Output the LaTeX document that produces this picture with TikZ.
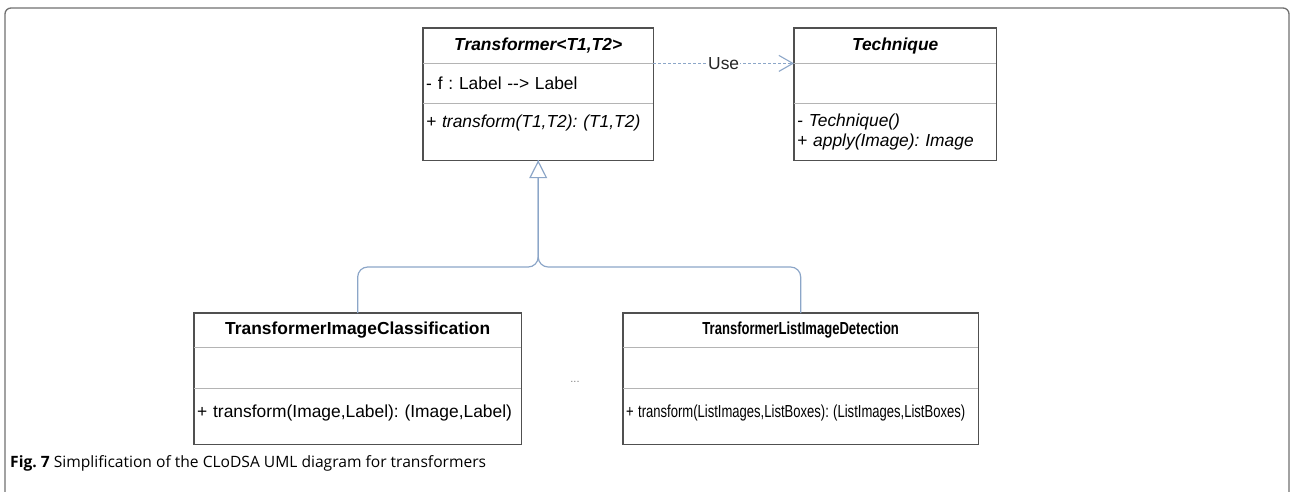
\documentclass[tikz,border=0pt]{standalone}
\usepackage{fontspec}
\setmainfont{Liberation Sans}
\newfontfamily\capfont{Open Sans}
\usetikzlibrary{arrows.meta}
\usetikzlibrary{positioning}
\frenchspacing
\newcommand{\umlsize}{\fontsize{17.4}{20}\selectfont}
\definecolor{boxgray}{HTML}{505050}
\definecolor{divgray}{HTML}{B4B4B4}
\definecolor{linkblue}{HTML}{8CA6C8}
\definecolor{framegray}{HTML}{707070}
\tikzset{
    classname/.style={inner xsep=3pt, inner ysep=0pt, align=center, font=\umlsize\bfseries},
    classitem/.style={inner xsep=3pt, inner ysep=0pt, align=left, font=\umlsize},
    border/.style={draw=boxgray, line width=1.3pt},
    divider/.style={draw=divgray, line width=1.3pt},
    usedep/.style={draw=linkblue, line width=1.1pt, dash pattern=on 3pt off 2pt,
        -{Straight Barb[length=14pt, width=16pt]}},
    inherit/.style={draw=linkblue, line width=1.2pt, rounded corners=10pt},
}

\begin{document}
\begin{tikzpicture}[x=1pt, y=-1pt, >=stealth]
    \useasboundingbox (0,0) rectangle (1291,491);
    % Frame
    \draw[framegray, line width=1.3pt, rounded corners=6pt] (5,492) |- (1289,8) -- (1289,492);

    % Class (Transformer)
    \node[classname, font=\umlsize\bfseries\itshape, text width=224pt, minimum height=35pt, anchor=north west] (tfhead) at (423,28) {Transformer<T1,T2>};
    \node[classitem, text width=224pt, minimum height=40pt, below=0pt of tfhead] (tfattr) {- f : Label \mbox{-}\mbox{-}> Label};
    \node[classitem, font=\umlsize\itshape, text width=224pt, text height=23pt, text depth=33pt, below=0pt of tfattr] (tfops) {+ transform(T1,T2): (T1,T2)};
    \draw[border] (tfhead.north west) rectangle (tfops.south east);
    \draw[divider] (tfattr.north west) -- (tfattr.north east);
    \draw[divider] (tfops.north west) -- (tfops.north east);

    % Class (Technique)
    \node[classname, font=\umlsize\bfseries\itshape, text width=196pt, minimum height=35pt, anchor=north west] (tqhead) at (794,28) {Technique};
    \node[classitem, text width=196pt, minimum height=40pt, below=0pt of tqhead] (tqattr) {};
    \node[classitem, font=\umlsize\itshape, text width=196pt, minimum height=56pt, below=0pt of tqattr] (tqops) {- Technique()\\+ apply(Image): Image};
    \draw[border] (tqhead.north west) rectangle (tqops.south east);
    \draw[divider] (tqattr.north west) -- (tqattr.north east);
    \draw[divider] (tqops.north west) -- (tqops.north east);

    % Class (TransformerImageClassification)
    \node[classname, text width=321pt, minimum height=34pt, anchor=north west] (tichead) at (194,313) {TransformerImageClassification};
    \node[classitem, text width=321pt, minimum height=41pt, below=0pt of tichead] (ticattr) {};
    \node[classitem, text width=321pt, text height=28pt, text depth=27pt, below=0pt of ticattr] (ticops) {+ transform(Image,Label): (Image,Label)};
    \draw[border] (tichead.north west) rectangle (ticops.south east);
    \draw[divider] (ticattr.north west) -- (ticattr.north east);
    \draw[divider] (ticops.north west) -- (ticops.north east);

    % Class (TransformerListImageDetection)
    \node[classname, text width=349pt, minimum height=34pt, anchor=north west] (tldhead) at (623,313) {\scalebox{0.75}[1]{TransformerListImageDetection}};
    \node[classitem, text width=349pt, minimum height=41pt, below=0pt of tldhead] (tldattr) {};
    \node[classitem, text width=349pt, text height=28pt, text depth=27pt, below=0pt of tldattr] (tldops) {\scalebox{0.75}[1]{+ transform(ListImages,ListBoxes): (ListImages,ListBoxes)}};
    \draw[border] (tldhead.north west) rectangle (tldops.south east);
    \draw[divider] (tldattr.north west) -- (tldattr.north east);
    \draw[divider] (tldops.north west) -- (tldops.north east);

    % More subclasses
    \node[font=\fontsize{11}{12}\selectfont, text=gray] (dots) at (575,382) {...};

    % Relationships
    \draw[usedep] (tfattr.north east) -- node[fill=white, inner sep=1pt, font=\umlsize, text=black!85] (uselabel) {Use} (tqattr.north west);
    \coordinate (split) at (tfops.south |- 0,267);
    \draw[inherit] (tldhead.north) |- (split) -- (tfops.south);
    \draw[inherit, -{Triangle[open, length=18pt, width=18pt, fill=white]}] (tichead.north) |- (split) -- (tfops.south);

    % Caption
    \node[anchor=west, inner sep=0pt, font=\capfont\fontsize{15.6}{18}\selectfont] (caption) at (10,463) {\textbf{Fig. 7} Simplification of the CLoDSA UML diagram for transformers};
\end{tikzpicture}
\end{document}
